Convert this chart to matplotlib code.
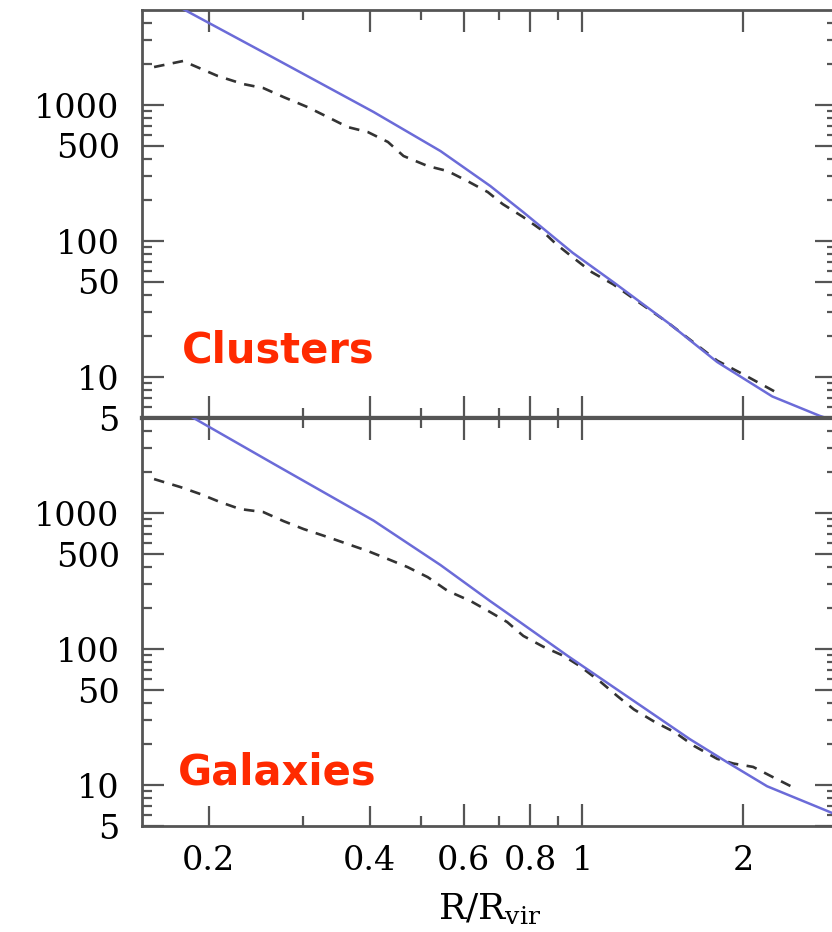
import matplotlib.pyplot as plt
from matplotlib.ticker import FixedLocator, NullFormatter

# profiles, R/R_vir vs value
CL_MODEL_R = [0.179, 0.265, 0.407, 0.543, 0.673, 0.776, 0.96, 1.144, 1.45, 1.79, 2.27, 2.78, 3.0]
CL_MODEL_Y = [5080, 2216, 889, 459, 254, 163, 82, 49.9, 25, 12.9, 7.2, 5.2, 4.7]

CL_DATA_R = [0.158, 0.179, 0.208, 0.232, 0.253, 0.276, 0.306, 0.334, 0.364, 0.397, 0.433,
             0.463, 0.514, 0.56, 0.61, 0.666, 0.71, 0.776, 0.836, 0.894, 0.96, 1.043,
             1.144, 1.45, 1.79, 2.0, 2.34]
CL_DATA_Y = [1903, 2107, 1634, 1427, 1333, 1145, 967, 816, 689, 633, 535,
             422, 356, 327, 276, 229, 187, 150, 122, 95, 76, 59,
             48, 25, 13.2, 10.5, 7.5]

GAL_MODEL_R = [0.186, 0.265, 0.407, 0.543, 0.673, 0.724, 0.94, 1.21, 1.59, 1.87, 2.22, 2.92, 3.0]
GAL_MODEL_Y = [5080, 2293, 880, 415, 225, 184, 89, 45.3, 21.8, 14.7, 9.8, 6.3, 6.0]

GAL_DATA_R = [0.158, 0.177, 0.193, 0.21, 0.229, 0.253, 0.276, 0.301, 0.334, 0.364, 0.397,
              0.433, 0.471, 0.514, 0.56, 0.619, 0.673, 0.724, 0.776, 0.846, 0.924, 0.99,
              1.085, 1.165, 1.25, 1.37, 1.49, 1.62, 1.79, 1.92, 2.09, 2.27, 2.46]
GAL_DATA_Y = [1778, 1553, 1379, 1205, 1070, 1017, 873, 763, 666, 592, 526,
              459, 401, 338, 268, 225, 187, 158, 125, 104, 89, 75,
              57, 45, 36, 29, 24.5, 19.4, 15.6, 14.4, 13.6, 11.5, 9.8]

X_MAJOR = [0.2, 0.4, 0.6, 0.8, 1, 2]
X_LABELS = ["0.2", "0.4", "0.6", "0.8", "1", "2"]
X_MINOR = [0.3, 0.5, 0.7, 0.9, 3]
Y_MAJOR = [5, 10, 50, 100, 500, 1000]
Y_LABELS = ["5", "10", "50", "100", "500", "1000"]
Y_MINOR = [6, 7, 8, 9, 20, 30, 40, 60, 70, 80, 90,
           200, 300, 400, 600, 700, 800, 900, 2000, 3000, 4000]

BLUE = "#6b6bd8"
DASH = "#333333"
RED = "#ff2a00"
AXC = "#555555"

plt.rcParams["font.family"] = "DejaVu Serif"
plt.rcParams["mathtext.fontset"] = "dejavuserif"

fig = plt.figure(figsize=(8.32, 9.32), dpi=100)
ax1 = fig.add_axes([0.1707, 0.5515, 0.8353, 0.4378])
ax2 = fig.add_axes([0.1707, 0.1137, 0.8353, 0.4378])


def style_axis(ax):
    ax.set_xscale("log")
    ax.set_yscale("log")
    ax.set_xlim(0.15, 3.0)
    ax.set_ylim(5, 5000)
    ax.xaxis.set_major_locator(FixedLocator(X_MAJOR))
    ax.xaxis.set_minor_locator(FixedLocator(X_MINOR))
    ax.yaxis.set_major_locator(FixedLocator(Y_MAJOR))
    ax.yaxis.set_minor_locator(FixedLocator(Y_MINOR))
    ax.set_xticklabels(X_LABELS)
    ax.set_yticklabels(Y_LABELS)
    ax.xaxis.set_minor_formatter(NullFormatter())
    ax.yaxis.set_minor_formatter(NullFormatter())
    ax.tick_params(which="both", direction="in", top=True, right=True,
                   color=AXC, width=1.6, labelsize=24)
    ax.tick_params(which="major", length=16)
    ax.tick_params(which="minor", length=7.5)
    ax.tick_params(axis="y", pad=16)
    ax.tick_params(axis="x", pad=14)
    for sp in ax.spines.values():
        sp.set_color(AXC)
        sp.set_linewidth(2.0)


style_axis(ax1)
style_axis(ax2)
ax1.tick_params(labelbottom=False)
ax1.spines["bottom"].set_linewidth(3.0)
ax2.spines["top"].set_linewidth(3.0)

ax1.plot(CL_MODEL_R, CL_MODEL_Y, color=BLUE, lw=1.8, zorder=3)
ax1.plot(CL_DATA_R, CL_DATA_Y, color=DASH, lw=1.9, dashes=(4.0, 3.2), zorder=2)
ax2.plot(GAL_MODEL_R, GAL_MODEL_Y, color=BLUE, lw=1.8, zorder=3)
ax2.plot(GAL_DATA_R, GAL_DATA_Y, color=DASH, lw=1.9, dashes=(4.0, 3.2), zorder=2)

box = dict(facecolor="white", edgecolor="none", pad=9)
ax1.text(0.0576, 0.137, "Clusters", transform=ax1.transAxes, color=RED,
         fontsize=30, fontweight="bold", family="DejaVu Sans",
         va="baseline", ha="left", zorder=5)
ax2.text(0.052, 0.103, "Galaxies", transform=ax2.transAxes, color=RED,
         fontsize=30, fontweight="bold", family="DejaVu Sans",
         va="baseline", ha="left", bbox=box, zorder=5)

ax2.set_xlabel(r"$\mathrm{R/R_{vir}}$", fontsize=26, labelpad=10)

fig.savefig("out.png", dpi=100)
